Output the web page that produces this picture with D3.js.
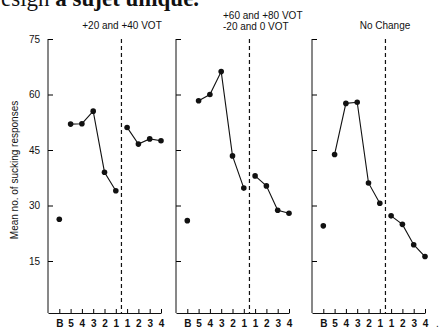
<!DOCTYPE html>
<html>
<head>
<meta charset="utf-8">
<script src="https://cdn.jsdelivr.net/npm/d3@7"></script>
<style>
  body { margin: 0; background: #fff; }
  svg { display: block; }
  text { font-family: "Liberation Sans", Arial, sans-serif; fill: #111; }
</style>
</head>
<body>
<svg id="chart" width="440" height="333"></svg>
<script>
// 横轴标签：B=基线，5..1=转换前，1..4=转换后
var tickLabels = ['B', '5', '4', '3', '2', '1', '1', '2', '3', '4']
var yTicks = [15, 30, 45, 60, 75]

// 各组标题
var titles = [['+20 and +40 VOT'], ['+60 and +80 VOT', '-20 and 0 VOT'], ['No Change']]

// 每组数据：基线、转换前5分钟、转换后4分钟
var baseline = [26.3, 25.9, 24.5]
var preShift = [
  [52.0, 52.1, 55.5, 39.0, 34.0],
  [58.3, 60.0, 66.2, 43.4, 34.7],
  [43.8, 57.6, 57.9, 36.1, 30.6]
]
var postShift = [
  [51.1, 46.6, 48.0, 47.5],
  [38.0, 35.3, 28.7, 27.9],
  [27.2, 24.9, 19.4, 16.2]
]

var svg = d3.select('#chart')

// 顶部被裁掉的正文
svg.append('text')
  .attr('x', 1).attr('y', 6)
  .style('font-family', '"Liberation Serif", "DejaVu Serif", serif')
  .style('font-size', '23px')
  .html('esign <tspan font-weight="bold">a sujet unique.</tspan>')

var panelLeft = [48, 176, 312]
var panelW = 113
var axisY = 313

var y = d3.scaleLinear().domain([0, 75]).range([316.5, 39])
var x = d3.scaleLinear().domain([-1, 9]).range([0, panelW])

var line = d3.line()
  .x((d) => x(d.i))
  .y((d) => y(d.v))

panelLeft.forEach(function (left, p) {
  var g = svg.append('g').attr('transform', 'translate(' + left + ',0)')

  // 纵轴
  var yAxis = d3.axisLeft(y).tickValues(yTicks).tickSizeInner(-5).tickSizeOuter(0).tickPadding(6)
  if (p > 0) yAxis.tickFormat('')
  var ya = g.append('g').call(yAxis)
  ya.select('.domain').remove()
  ya.selectAll('text').style('font-size', '10px').attr('dx', '-2px')
  g.append('line')
    .attr('x1', 0).attr('x2', 0)
    .attr('y1', y(75)).attr('y2', axisY)
    .attr('stroke', '#111')

  // 横轴
  var xAxis = d3.axisBottom(x)
    .tickValues(d3.range(tickLabels.length))
    .tickFormat((d) => tickLabels[d])
    .tickSizeInner(-4).tickSizeOuter(0).tickPadding(7)
  var xa = g.append('g').attr('transform', 'translate(0,' + axisY + ')').call(xAxis)
  xa.selectAll('text').style('font-size', '10px').style('font-weight', 'bold')
  xa.select('.domain').attr('stroke', '#111')

  // 虚线分隔
  g.append('line')
    .attr('x1', x(5.5)).attr('x2', x(5.5))
    .attr('y1', y(75)).attr('y2', axisY)
    .attr('stroke', '#111').attr('stroke-width', 1.2)
    .attr('stroke-dasharray', '4,3')

  // 标题
  if (p === 1) {
    titles[p].forEach(function (t, k) {
      g.append('text')
        .attr('x', 47).attr('y', 19 + k * 10.5)
        .style('font-size', '10px')
        .text(t)
    })
  } else {
    g.append('text')
      .attr('x', p === 0 ? 74 : 73).attr('y', 29)
      .attr('text-anchor', 'middle')
      .style('font-size', '10px')
      .text(titles[p][0])
  }

  var pre = preShift[p].map((v, k) => ({ i: k + 1, v: v }))
  var post = postShift[p].map((v, k) => ({ i: k + 6, v: v }))

  g.append('path').datum(pre).attr('d', line).attr('fill', 'none').attr('stroke', '#111').attr('stroke-width', 1.1)
  g.append('path').datum(post).attr('d', line).attr('fill', 'none').attr('stroke', '#111').attr('stroke-width', 1.1)

  var pts = [{ i: 0, v: baseline[p] }].concat(pre, post)
  g.selectAll('circle.pt').data(pts).enter().append('circle')
    .attr('class', 'pt')
    .attr('cx', (d) => x(d.i))
    .attr('cy', (d) => y(d.v))
    .attr('r', 2.8)
    .attr('fill', '#111')
})

// 纵轴标题
svg.append('text')
  .attr('transform', 'translate(18,170) rotate(-90)')
  .attr('text-anchor', 'middle')
  .style('font-size', '10px')
  .text('Mean no. of sucking responses')

svg.append('text').attr('x', 436).attr('y', 327).style('font-size', '10px').text('.')
</script>
</body>
</html>
